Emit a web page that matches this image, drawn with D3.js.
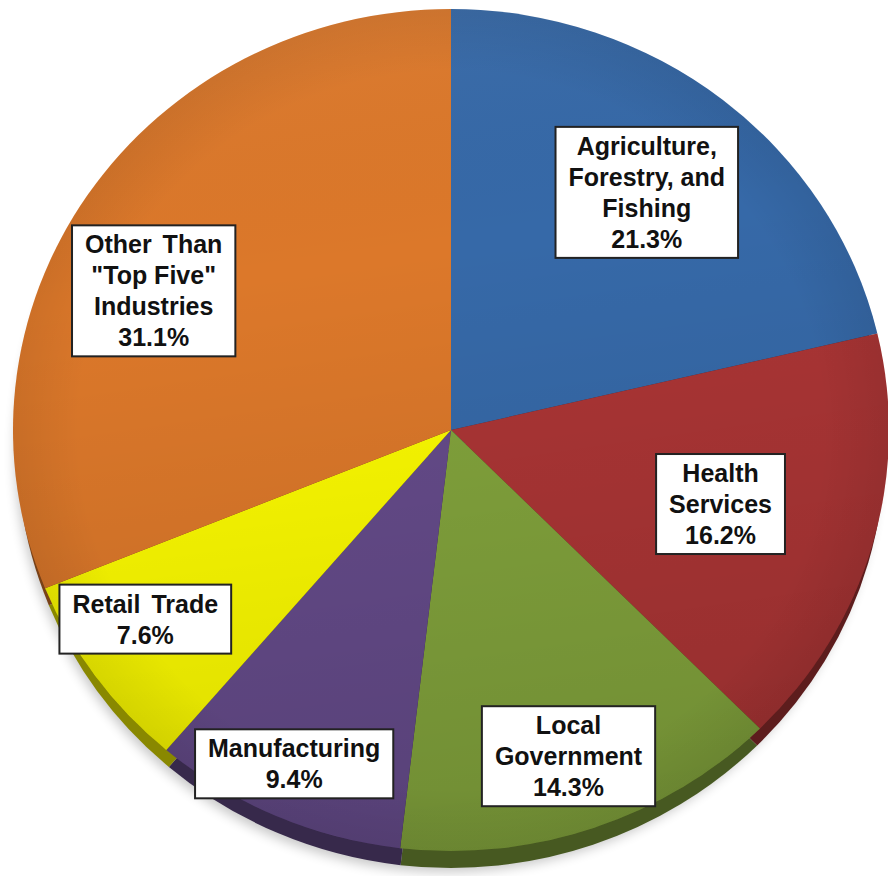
<!DOCTYPE html>
<html lang="en">
<head>
    <meta charset="UTF-8">
    <script src="https://cdn.jsdelivr.net/npm/d3@7"></script>
    <title>Top Five Industries</title>
    <style>
        body { margin: 0; background: white; }
        svg { display: block; }
        .label text {
            font-family: "Liberation Sans", Arial, sans-serif;
            font-weight: bold;
            font-size: 25px;
            fill: #111;
        }
    </style>
</head>
<body>
    <div id="chart"></div>

    <script>
        // data, clockwise from 12 o'clock
        const industries = ["Agriculture,\nForestry, and\nFishing", "Health\nServices", "Local\nGovernment",
            "Manufacturing", "Retail Trade", "Other Than\n\"Top Five\"\nIndustries"];
        const shares = [21.3, 16.2, 14.3, 9.4, 7.6, 31.1];
        const sliceColors = ["#3669a8", "#ab3535", "#82a33c", "#654b8a", "#fbfa00", "#dc782a"];

        // label placement: fraction of radius and angle nudge (deg)
        const labelRadius = [0.72, 0.64, 0.82, 0.87, 0.83, 0.755];
        const labelNudge = [0, 0, 0, 0.7, 3, -8];

        const width = 888, height = 876;
        const cx = 451, cy = 430, rx = 438, ry = 421, depth = 17;
        const lh = 31, padV = 3.5, padH = 13;

        const svg = d3.select("#chart").append("svg")
            .attr("width", width)
            .attr("height", height);

        const defs = svg.append("defs");
        const shade = defs.append("linearGradient").attr("id", "shade")
            .attr("x1", 0).attr("y1", 0).attr("x2", 0.15).attr("y2", 1);
        shade.append("stop").attr("offset", "0%").attr("stop-color", "#fff").attr("stop-opacity", 0.06);
        shade.append("stop").attr("offset", "35%").attr("stop-color", "#000").attr("stop-opacity", 0);
        shade.append("stop").attr("offset", "100%").attr("stop-color", "#000").attr("stop-opacity", 0.12);

        const rim = defs.append("radialGradient").attr("id", "rim");
        rim.append("stop").attr("offset", "85%").attr("stop-color", "#000").attr("stop-opacity", 0);
        rim.append("stop").attr("offset", "100%").attr("stop-color", "#000").attr("stop-opacity", 0.07);

        defs.append("filter").attr("id", "blur")
            .attr("x", "-10%").attr("y", "-10%").attr("width", "120%").attr("height", "120%")
            .append("feGaussianBlur").attr("stdDeviation", 6);

        const pie = d3.pie().sort(null).value(d => d)(shares);
        const arc = d3.arc().innerRadius(0).outerRadius(100);

        // soft shadow
        svg.append("ellipse")
            .attr("cx", cx - 4).attr("cy", cy + depth + 4)
            .attr("rx", rx - 6).attr("ry", ry)
            .attr("fill", "#000").attr("opacity", 0.22)
            .attr("filter", "url(#blur)");

        // side of the disc
        svg.append("g")
            .attr("transform", `translate(${cx},${cy + depth}) scale(${(rx - 4) / 100},${ry / 100})`)
            .selectAll("path")
            .data(pie)
            .join("path")
            .attr("d", arc)
            .attr("fill", (d, i) => d3.color(sliceColors[i]).darker(1.7));

        // top face
        const face = svg.append("g")
            .attr("transform", `translate(${cx},${cy}) scale(${rx / 100},${ry / 100})`);
        face.selectAll("path")
            .data(pie)
            .join("path")
            .attr("d", arc)
            .attr("fill", (d, i) => sliceColors[i]);
        face.append("circle").attr("r", 100).attr("fill", "url(#shade)");
        face.append("circle").attr("r", 100).attr("fill", "url(#rim)");

        // labels
        const labels = svg.append("g").attr("class", "label")
            .selectAll("g")
            .data(pie)
            .join("g");

        labels.each(function (d, i) {
            const g = d3.select(this);
            const a = (d.startAngle + d.endAngle) / 2 + labelNudge[i] * Math.PI / 180;
            const x = cx + Math.sin(a) * labelRadius[i] * rx;
            const y = cy - Math.cos(a) * labelRadius[i] * ry;
            const lines = industries[i].split("\n").concat([shares[i].toFixed(1) + "%"]);
            const boxH = lines.length * lh + 2 * padV;
            const top = y - boxH / 2;

            const box = g.append("rect");
            const txt = g.selectAll("text")
                .data(lines)
                .join("text")
                .attr("x", x)
                .attr("y", (t, k) => top + padV + k * lh + 24.5)
                .attr("text-anchor", "middle")
                .style("word-spacing", t => t.startsWith("Other") || t.startsWith("Retail") ? "4px" : null)
                .text(t => t);

            let maxW = 0;
            txt.each(function () { maxW = Math.max(maxW, this.getComputedTextLength()); });
            box.attr("x", x - maxW / 2 - padH)
                .attr("y", top)
                .attr("width", maxW + 2 * padH)
                .attr("height", boxH)
                .attr("fill", "white")
                .attr("stroke", "#222")
                .attr("stroke-width", 2);
        });
    </script>
</body>
</html>
